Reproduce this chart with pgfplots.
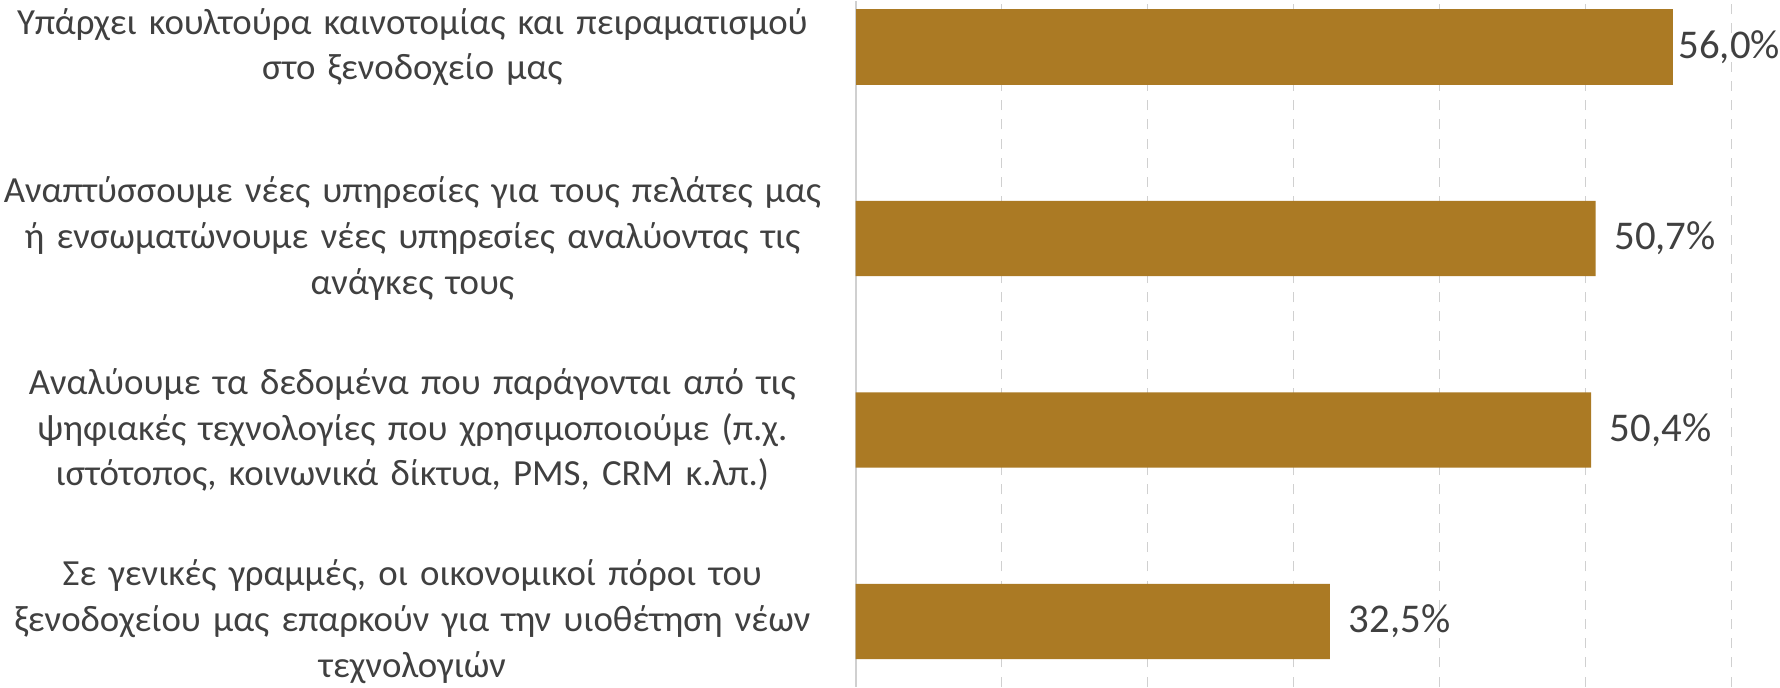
\documentclass[border=0pt]{standalone}
\usepackage{fontspec}
\setmainfont{Carlito}
\usepackage{pgfplots}
\pgfplotsset{compat=1.18}
\definecolor{barc}{HTML}{AB7A24}
\definecolor{txt}{HTML}{404040}
\definecolor{gridc}{HTML}{D0D0D0}
\begin{document}
\begin{tikzpicture}
\begin{axis}[
  scale only axis,
  width=218.75pt, height=171.25pt,
  xbar, bar width=18.75pt,
  xmin=0, xmax=60,
  ymin=-0.34, ymax=3.24,
  xtick={0,10,20,30,40,50,60},
  xticklabels={},
  xticklabel style={inner sep=0pt, outer sep=0pt},
  xticklabel shift=-20pt,
  ytick={0,1,2,3},
  major tick length=0pt,
  xmajorgrids,
  grid style={gridc, line width=0.4pt, dash pattern=on 2.5pt off 2.3pt},
  axis lines*=left,
  x axis line style={draw=none},
  y axis line style={draw=gridc, line width=0.5pt},
  yticklabels={
    {Σε γενικές γραμμές, οι οικονομικοί πόροι του\\ ξενοδοχείου μας επαρκούν για την υιοθέτηση νέων\\ τεχνολογιών},
    {Αναλύουμε τα δεδομένα που παράγονται από τις\\ ψηφιακές τεχνολογίες που χρησιμοποιούμε (π.χ.\\ ιστότοπος, κοινωνικά δίκτυα, PMS, CRM κ.λπ.)},
    {Αναπτύσσουμε νέες υπηρεσίες για τους πελάτες μας\\ ή ενσωματώνουμε νέες υπηρεσίες αναλύοντας τις\\ ανάγκες τους},
    {Υπάρχει κουλτούρα καινοτομίας και πειραματισμού\\ στο ξενοδοχείο μας}
  },
  yticklabel style={text width=206pt, align=center, inner sep=0pt, xshift=-7.5pt,
    font=\fontsize{9.2}{11.4}\selectfont, text=txt},
  point meta=explicit symbolic,
  nodes near coords,
  nodes near coords style={font=\fontsize{10.2}{12}\selectfont, text=txt, anchor=west, inner sep=0pt},
  clip=false,
]
\addplot[fill=barc, draw=none, bar shift=0pt, nodes near coords style={xshift=4.5pt}]
  coordinates {(32.5,0) [32,5\%] (50.4,1) [50,4\%] (50.7,2) [50,7\%]};
\addplot[fill=barc, draw=none, bar shift=0pt, nodes near coords style={xshift=1.2pt}]
  coordinates {(56.0,3) [56,0\%]};
\end{axis}
\end{tikzpicture}
\end{document}
